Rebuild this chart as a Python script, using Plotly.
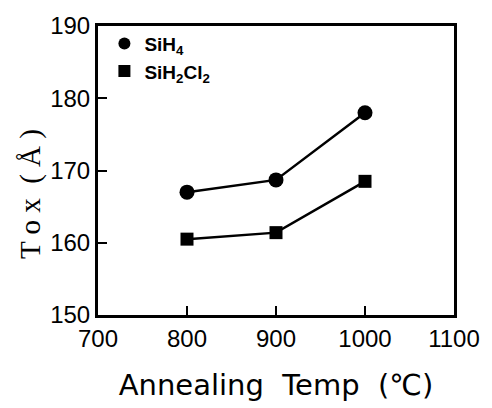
import plotly.graph_objects as go

temps = [800, 900, 1000]
sih4 = [167.0, 168.7, 178.0]
sih2cl2 = [160.5, 161.4, 168.5]
x_ticks = [700, 800, 900, 1000, 1100]
y_ticks = [150, 160, 170, 180, 190]
series_names = ["SiH<sub>4</sub>", "SiH<sub>2</sub>Cl<sub>2</sub>"]

fig = go.Figure()
fig.add_trace(go.Scatter(x=temps, y=sih4, mode="lines+markers", showlegend=False,
                         line=dict(color="black", width=2.5),
                         marker=dict(symbol="circle", size=15, color="black")))
fig.add_trace(go.Scatter(x=temps, y=sih2cl2, mode="lines+markers", showlegend=False,
                         line=dict(color="black", width=2.5),
                         marker=dict(symbol="square", size=13, color="black")))
# legend entries (markers only, as in the reference)
fig.add_trace(go.Scatter(x=[None], y=[None], mode="markers", name=series_names[0],
                         marker=dict(symbol="circle", size=15, color="black")))
fig.add_trace(go.Scatter(x=[None], y=[None], mode="markers", name=series_names[1],
                         marker=dict(symbol="square", size=13, color="black")))

tickfont = dict(family="Liberation Sans, Arial", size=24, color="black")
fig.update_layout(
    width=492, height=408,
    margin=dict(l=98, r=33, t=18, b=91),
    paper_bgcolor="white", plot_bgcolor="white",
    showlegend=True,
    legend=dict(x=0.018, y=1.005, xanchor="left", yanchor="top",
                font=dict(family="Liberation Sans, Arial", size=19, color="black", weight="bold"),
                bgcolor="rgba(0,0,0,0)", itemsizing="constant", tracegroupgap=0,
                itemwidth=30),
    xaxis=dict(range=[700, 1100], tickvals=x_ticks, ticktext=[str(v) for v in x_ticks],
               ticks="inside", ticklen=9, tickwidth=2, tickcolor="black",
               showline=True, linecolor="black", linewidth=3, mirror=True,
               showgrid=False, zeroline=False, tickfont=tickfont,
               title=dict(text="Annealing  Temp  (℃)", standoff=24,
                          font=dict(family="DejaVu Sans", size=29, color="black"))),
    yaxis=dict(range=[150, 190], tickvals=y_ticks, ticktext=[str(v) for v in y_ticks],
               ticks="inside", ticklen=9, tickwidth=2, tickcolor="black",
               showline=True, linecolor="black", linewidth=3, mirror=True,
               showgrid=False, zeroline=False, tickfont=tickfont),
)
fig.add_annotation(text="T o x  ( Å )", xref="paper", yref="paper", x=-0.19, y=0.42,
                   xanchor="center", yanchor="middle", textangle=-90, showarrow=False,
                   font=dict(family="Liberation Serif, Times New Roman", size=29, color="#000000"))
fig.update_traces(cliponaxis=False)
fig.write_html("out.html")
